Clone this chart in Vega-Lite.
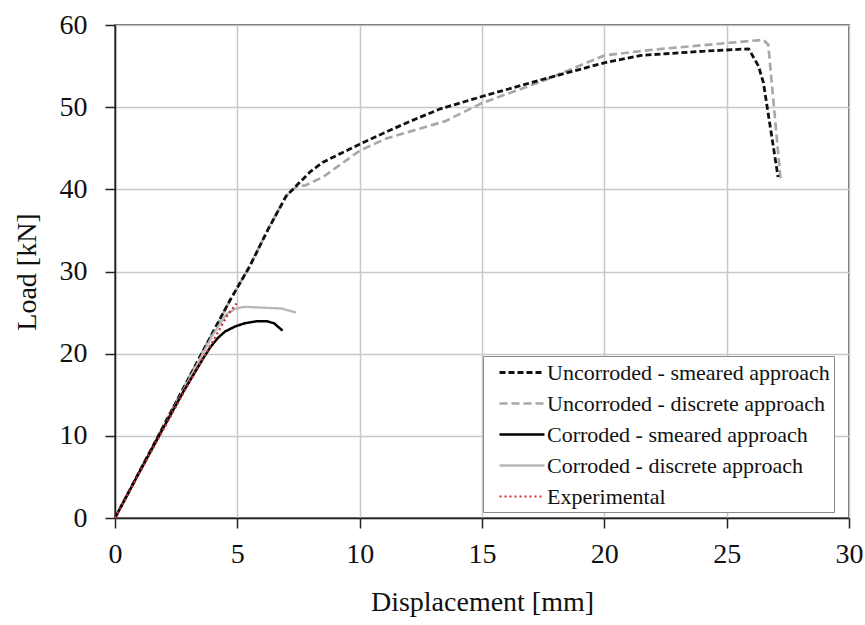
{
  "$schema": "https://vega.github.io/schema/vega-lite/v6.json",
  "width": 734,
  "height": 493,
  "autosize": "none",
  "padding": {"left": 115, "top": 25, "right": 16, "bottom": 107},
  "background": "white",
  "config": {
    "font": "Liberation Serif",
    "view": {"stroke": "#333333", "strokeWidth": 1.5},
    "axis": {
      "labelFont": "Liberation Serif",
      "titleFont": "Liberation Serif",
      "labelFontSize": 28,
      "titleFontSize": 28,
      "titleFontWeight": "normal",
      "labelColor": "#111111",
      "titleColor": "#111111",
      "domainColor": "#222222",
      "domainWidth": 1.5,
      "tickColor": "#222222",
      "tickWidth": 1.5,
      "tickSize": 10,
      "gridColor": "#c8c8c8",
      "gridWidth": 1.5
    }
  },
  "data": {
    "values": [
      {"Series": "Uncorroded - discrete approach", "Displacement": 0, "Load": 0},
      {"Series": "Uncorroded - discrete approach", "Displacement": 2, "Load": 11.3},
      {"Series": "Uncorroded - discrete approach", "Displacement": 4, "Load": 22.6},
      {"Series": "Uncorroded - discrete approach", "Displacement": 4.7, "Load": 26.5},
      {"Series": "Uncorroded - discrete approach", "Displacement": 5.5, "Load": 30.6},
      {"Series": "Uncorroded - discrete approach", "Displacement": 6.25, "Load": 35.1},
      {"Series": "Uncorroded - discrete approach", "Displacement": 7.0, "Load": 39.2},
      {"Series": "Uncorroded - discrete approach", "Displacement": 7.4, "Load": 40.3},
      {"Series": "Uncorroded - discrete approach", "Displacement": 7.8, "Load": 40.5},
      {"Series": "Uncorroded - discrete approach", "Displacement": 8.5, "Load": 41.5},
      {"Series": "Uncorroded - discrete approach", "Displacement": 10.0, "Load": 44.7},
      {"Series": "Uncorroded - discrete approach", "Displacement": 11.1, "Load": 46.2},
      {"Series": "Uncorroded - discrete approach", "Displacement": 13.5, "Load": 48.3},
      {"Series": "Uncorroded - discrete approach", "Displacement": 15.0, "Load": 50.5},
      {"Series": "Uncorroded - discrete approach", "Displacement": 17.5, "Load": 53.2},
      {"Series": "Uncorroded - discrete approach", "Displacement": 20.0, "Load": 56.3},
      {"Series": "Uncorroded - discrete approach", "Displacement": 22.0, "Load": 57.0},
      {"Series": "Uncorroded - discrete approach", "Displacement": 25.0, "Load": 57.8},
      {"Series": "Uncorroded - discrete approach", "Displacement": 26.5, "Load": 58.2},
      {"Series": "Uncorroded - discrete approach", "Displacement": 26.7, "Load": 57.6},
      {"Series": "Uncorroded - discrete approach", "Displacement": 27.2, "Load": 41.3},

      {"Series": "Uncorroded - smeared approach", "Displacement": 0, "Load": 0},
      {"Series": "Uncorroded - smeared approach", "Displacement": 2, "Load": 11.3},
      {"Series": "Uncorroded - smeared approach", "Displacement": 4, "Load": 22.6},
      {"Series": "Uncorroded - smeared approach", "Displacement": 4.7, "Load": 26.5},
      {"Series": "Uncorroded - smeared approach", "Displacement": 5.5, "Load": 30.6},
      {"Series": "Uncorroded - smeared approach", "Displacement": 6.25, "Load": 35.1},
      {"Series": "Uncorroded - smeared approach", "Displacement": 7.0, "Load": 39.2},
      {"Series": "Uncorroded - smeared approach", "Displacement": 7.4, "Load": 40.4},
      {"Series": "Uncorroded - smeared approach", "Displacement": 8.0, "Load": 42.2},
      {"Series": "Uncorroded - smeared approach", "Displacement": 8.5, "Load": 43.3},
      {"Series": "Uncorroded - smeared approach", "Displacement": 10.0, "Load": 45.5},
      {"Series": "Uncorroded - smeared approach", "Displacement": 11.1, "Load": 47.0},
      {"Series": "Uncorroded - smeared approach", "Displacement": 12.0, "Load": 48.2},
      {"Series": "Uncorroded - smeared approach", "Displacement": 13.3, "Load": 49.8},
      {"Series": "Uncorroded - smeared approach", "Displacement": 15.0, "Load": 51.3},
      {"Series": "Uncorroded - smeared approach", "Displacement": 17.5, "Load": 53.4},
      {"Series": "Uncorroded - smeared approach", "Displacement": 20.0, "Load": 55.4},
      {"Series": "Uncorroded - smeared approach", "Displacement": 21.5, "Load": 56.3},
      {"Series": "Uncorroded - smeared approach", "Displacement": 24.0, "Load": 56.8},
      {"Series": "Uncorroded - smeared approach", "Displacement": 25.9, "Load": 57.1},
      {"Series": "Uncorroded - smeared approach", "Displacement": 26.3, "Load": 55.0},
      {"Series": "Uncorroded - smeared approach", "Displacement": 26.5, "Load": 53.0},
      {"Series": "Uncorroded - smeared approach", "Displacement": 27.1, "Load": 41.5},

      {"Series": "Corroded - discrete approach", "Displacement": 0, "Load": 0},
      {"Series": "Corroded - discrete approach", "Displacement": 2, "Load": 11.1},
      {"Series": "Corroded - discrete approach", "Displacement": 4, "Load": 22.3},
      {"Series": "Corroded - discrete approach", "Displacement": 4.55, "Load": 24.8},
      {"Series": "Corroded - discrete approach", "Displacement": 4.95, "Load": 25.5},
      {"Series": "Corroded - discrete approach", "Displacement": 5.3, "Load": 25.7},
      {"Series": "Corroded - discrete approach", "Displacement": 6.8, "Load": 25.5},
      {"Series": "Corroded - discrete approach", "Displacement": 7.4, "Load": 25.0},

      {"Series": "Corroded - smeared approach", "Displacement": 0, "Load": 0},
      {"Series": "Corroded - smeared approach", "Displacement": 1, "Load": 5.6},
      {"Series": "Corroded - smeared approach", "Displacement": 2, "Load": 11.1},
      {"Series": "Corroded - smeared approach", "Displacement": 2.8, "Load": 15.4},
      {"Series": "Corroded - smeared approach", "Displacement": 3.2, "Load": 17.4},
      {"Series": "Corroded - smeared approach", "Displacement": 3.6, "Load": 19.4},
      {"Series": "Corroded - smeared approach", "Displacement": 3.9, "Load": 20.8},
      {"Series": "Corroded - smeared approach", "Displacement": 4.2, "Load": 21.9},
      {"Series": "Corroded - smeared approach", "Displacement": 4.5, "Load": 22.7},
      {"Series": "Corroded - smeared approach", "Displacement": 4.9, "Load": 23.3},
      {"Series": "Corroded - smeared approach", "Displacement": 5.3, "Load": 23.7},
      {"Series": "Corroded - smeared approach", "Displacement": 5.8, "Load": 23.95},
      {"Series": "Corroded - smeared approach", "Displacement": 6.2, "Load": 23.95},
      {"Series": "Corroded - smeared approach", "Displacement": 6.5, "Load": 23.7},
      {"Series": "Corroded - smeared approach", "Displacement": 6.85, "Load": 22.8},

      {"Series": "Experimental", "Displacement": 0, "Load": 0},
      {"Series": "Experimental", "Displacement": 1, "Load": 5.5},
      {"Series": "Experimental", "Displacement": 2, "Load": 10.9},
      {"Series": "Experimental", "Displacement": 3, "Load": 16.3},
      {"Series": "Experimental", "Displacement": 4, "Load": 21.5},
      {"Series": "Experimental", "Displacement": 4.6, "Load": 24.7},
      {"Series": "Experimental", "Displacement": 4.97, "Load": 26.1}
    ]
  },
  "mark": {"type": "line", "strokeCap": "butt", "strokeJoin": "round"},
  "encoding": {
    "x": {
      "field": "Displacement",
      "type": "quantitative",
      "title": "Displacement [mm]",
      "scale": {"domain": [0, 30], "nice": false},
      "axis": {"values": [0, 5, 10, 15, 20, 25, 30], "labelPadding": 12, "titlePadding": 20, "labelFlush": false}
    },
    "y": {
      "field": "Load",
      "type": "quantitative",
      "title": "Load [kN]",
      "scale": {"domain": [0, 60], "nice": false},
      "axis": {"values": [0, 10, 20, 30, 40, 50, 60], "labelPadding": 18, "titlePadding": 18, "labelFlush": false}
    },
    "color": {
      "field": "Series",
      "type": "nominal",
      "scale": {
        "domain": ["Uncorroded - smeared approach", "Uncorroded - discrete approach", "Corroded - smeared approach", "Corroded - discrete approach", "Experimental"],
        "range": ["#111111", "#a8a8a8", "#000000", "#b8b8b8", "#d42a30"]
      },
      "legend": {
        "title": null,
        "orient": "none",
        "legendX": 368,
        "legendY": 331,
        "symbolType": "M0,0H4.09",
        "symbolSize": 484,
        "labelFont": "Liberation Serif",
        "labelFontSize": 22,
        "labelColor": "#111111",
        "labelOffset": 35,
        "labelLimit": 400,
        "labelExpr": "datum.label + '   '",
        "rowPadding": 7,
        "padding": 4,
        "strokeColor": "#8a8a8a",
        "fillColor": "white"
      }
    },
    "strokeDash": {
      "field": "Series",
      "type": "nominal",
      "scale": {
        "domain": ["Uncorroded - smeared approach", "Uncorroded - discrete approach", "Corroded - smeared approach", "Corroded - discrete approach", "Experimental"],
        "range": [[6, 3], [8, 4], [1, 0], [1, 0], [2, 3]]
      },
      "legend": null
    },
    "strokeWidth": {
      "field": "Series",
      "type": "nominal",
      "scale": {
        "domain": ["Uncorroded - smeared approach", "Uncorroded - discrete approach", "Corroded - smeared approach", "Corroded - discrete approach", "Experimental"],
        "range": [2.8, 2.2, 3.5, 2, 2.4]
      },
      "legend": null
    }
  }
}
